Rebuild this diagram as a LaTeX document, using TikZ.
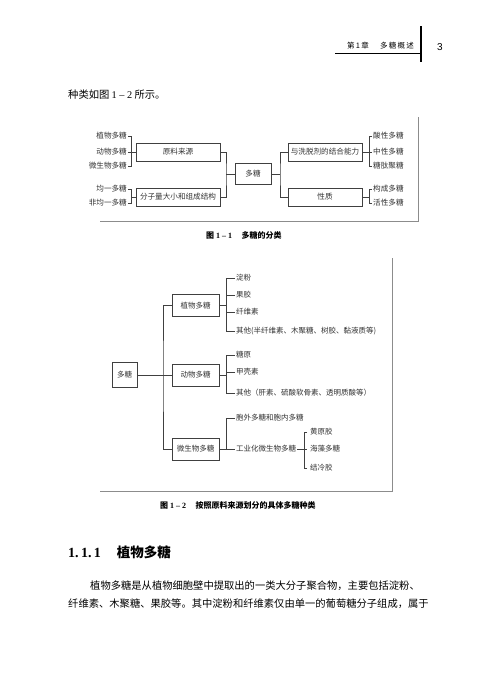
\documentclass[tikz,border=0pt]{standalone}
\usepackage{fontspec}
\setmainfont{Liberation Serif}
\newfontfamily\cjk{Noto Sans CJK SC}
\newfontfamily\pagenum{Liberation Sans}
\usetikzlibrary{positioning}

\begin{document}
\begin{tikzpicture}[
        x=1pt, y=-1pt,
        fbox/.style={rectangle, draw=black!75, line width=0.6pt, inner sep=0pt, minimum height=18pt, text=black!80, font=\cjk\fontsize{7.6}{8}\selectfont},
        gbox/.style={fbox, minimum width=47pt, minimum height=22pt, font=\cjk\fontsize{7.5}{8}\selectfont},
        lbl/.style={inner xsep=1pt, inner ysep=0pt, text=black!80, font=\cjk\fontsize{7.6}{8}\selectfont},
        item/.style={lbl, anchor=west, font=\cjk\fontsize{7.5}{8}\selectfont},
        link/.style={draw=black!75, line width=0.5pt},
        frame/.style={draw=black!45, line width=0.7pt},
        body/.style={anchor=west, inner sep=0pt, font=\cjk\fontsize{10.3}{12}\selectfont},
        caption/.style={anchor=west, inner sep=0pt, font=\cjk\bfseries\fontsize{8}{9}\selectfont}
    ]
%
    \fill[white] (0,0) rectangle (494,696);
    \useasboundingbox (0,0) rectangle (494,696);
%
    % Page head
    \node[anchor=east, inner sep=0pt, font=\cjk\fontsize{7.5}{8}\selectfont] (chap) at (414,46) {第\,1\,章\hspace{1.5em}多\,糖\,概\,述};
    \draw[line width=0.5pt] (335,53.5) -- (421,53.5);
    \draw[line width=1.3pt] (421,26) -- (421,62);
    \node[inner sep=0pt, font=\pagenum\fontsize{10}{10}\selectfont] (pnum) at (440,47) {3};
%
    \node[body] (intro) at (68,95) {种类如图 {\rmfamily 1 – 2} 所示。};
%
    % Figure 1-1
    \node[lbl, anchor=east] (pl) at (128,136) {植物多糖};
    \node[lbl, anchor=east] (an) at (128,152) {动物多糖};
    \node[lbl, anchor=east] (mi) at (128,166) {微生物多糖};
    \node[lbl, anchor=east] (ho) at (128,189) {均一多糖};
    \node[lbl, anchor=east] (he) at (128,203) {非均一多糖};
    \node[fbox, minimum width=84pt] (src) at (178,152) {原料来源};
    \node[fbox, minimum width=84pt] (mol) at (178,197) {分子量大小和组成结构};
    \node[fbox, minimum width=36pt, minimum height=21pt] (ps) at (253,174) {多糖};
    \node[fbox, minimum width=74pt] (bind) at (325,152) {与洗脱剂的结合能力};
    \node[fbox, minimum width=74pt] (prop) at (325,197) {性质};
    \node[lbl, anchor=west] (ac) at (372,136) {酸性多糖};
    \node[lbl, anchor=west] (ne) at (372,152) {中性多糖};
    \node[lbl, anchor=west] (gp) at (372,166) {糖肽聚糖};
    \node[lbl, anchor=west] (st) at (372,189) {构成多糖};
    \node[lbl, anchor=west] (bi) at (372,203) {活性多糖};
%
    \coordinate (jl1) at (131,152);
    \coordinate (jl2) at (131,197);
    \coordinate (jc) at (226,174);
    \coordinate (jr) at (280,174);
    \coordinate (jb1) at (369,152);
    \coordinate (jb2) at (369,197);
%
    \draw[link] (pl.east) -| (jl1);
    \draw[link] (mi.east) -| (jl1);
    \draw[link] (an.east) -- (src.west);
    \draw[link] (ho.east) -| (jl2);
    \draw[link] (he.east) -| (jl2);
    \draw[link] (jl2) -- (mol.west);
    \draw[link] (src.east) -| (jc) |- (mol.east);
    \draw[link] (jc) -- (ps.west);
    \draw[link] (ps.east) -- (jr);
    \draw[link] (bind.west) -| (jr) |- (prop.west);
    \draw[link] (bind.east) -- (ne.west);
    \draw[link] (ac.west) -| (jb1);
    \draw[link] (gp.west) -| (jb1);
    \draw[link] (prop.east) -- (jb2);
    \draw[link] (st.west) -| (jb2);
    \draw[link] (bi.west) -| (jb2);
%
    \draw[frame] (100,221) -- (418,221) -- (418,117);
    \node[caption] (cap1) at (206,235) {图 {\rmfamily\bfseries 1 – 1}\hspace{1.2em}多糖的分类};
%
    % Figure 1-2
    \node[gbox, minimum width=25pt, minimum height=25pt] (root) at (124.5,375) {多糖};
    \node[gbox] (plant) at (195.5,305.5) {植物多糖};
    \node[gbox] (animal) at (195.5,375) {动物多糖};
    \node[gbox] (micro) at (195.5,449) {微生物多糖};
%
    \node[item] (starch) at (235,278) {淀粉};
    \node[item] (pectin) at (235,295) {果胶};
    \node[item] (cellu) at (235,312) {纤维素};
    \node[item] (pother) at (235,331) {其他(半纤维素、木聚糖、树胶、黏液质等)};
    \node[item] (glyc) at (235,355) {糖原};
    \node[item] (chit) at (235,372) {甲壳素};
    \node[item] (aother) at (235,393) {其他（肝素、硫酸软骨素、透明质酸等）};
    \node[item] (exo) at (235,418) {胞外多糖和胞内多糖};
    \node[item] (ind) at (235,449) {工业化微生物多糖};
    \node[item, inner xsep=3pt] (xan) at (307,432) {黄原胶};
    \node[item, inner xsep=3pt] (alg) at (307,449) {海藻多糖};
    \node[item, inner xsep=3pt] (gel) at (307,468) {结冷胶};
%
    \coordinate (trk) at (163,375);
    \coordinate (jpl) at (226,305.5);
    \coordinate (jan) at (226,375);
    \coordinate (jmi) at (226,449);
    \coordinate (jind) at (304,449);
%
    \draw[link] (root.east) -- (animal.west);
    \draw[link] (plant.west) -| (trk) |- (micro.west);
    \draw[link] (plant.east) -- (jpl);
    \foreach \n in {starch, pectin, cellu, pother}
        \draw[link] (\n.west) -| (jpl);
    \draw[link] (animal.east) -- (jan);
    \foreach \n in {glyc, chit, aother}
        \draw[link] (\n.west) -| (jan);
    \draw[link] (micro.east) -- (ind.west);
    \draw[link] (exo.west) -| (jmi);
    \draw[link] (ind.east) -- (alg.west);
    \draw[link] (xan.west) -| (jind);
    \draw[link] (gel.west) -| (jind);
%
    \draw[frame] (100,491) -- (392,491) -- (392,258);
    \node[caption] (cap2) at (160,505) {图 {\rmfamily\bfseries 1 – 2}\hspace{1.2em}按照原料来源划分的具体多糖种类};
%
    % Section text
    \node[anchor=west, inner sep=0pt] (sec) at (68,552) {{\rmfamily\bfseries\fontsize{14}{16}\selectfont 1.\,1.\,1}\hspace{16pt}{\cjk\bfseries\fontsize{13.5}{16}\selectfont 植物多糖}};
    \node[body] (par1) at (90,586) {植物多糖是从植物细胞壁中提取出的一类大分子聚合物，主要包括淀粉、};
    \node[body] (par2) at (68,604) {纤维素、木聚糖、果胶等。其中淀粉和纤维素仅由单一的葡萄糖分子组成，属于};
%
\end{tikzpicture}
\end{document}
